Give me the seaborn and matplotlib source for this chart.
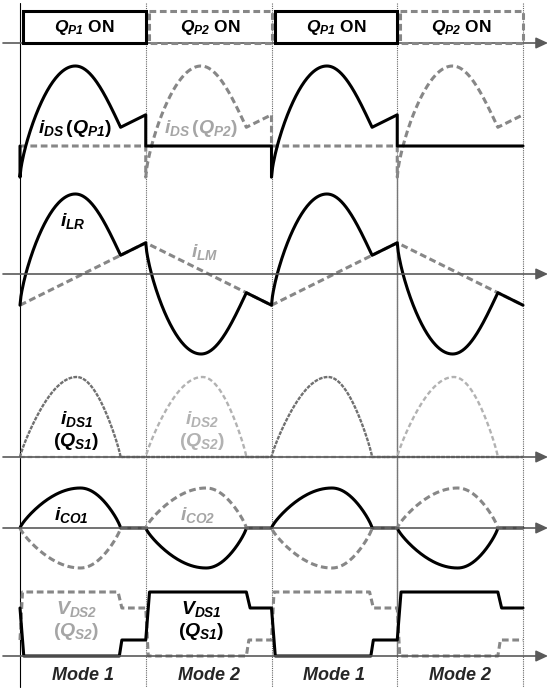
import matplotlib
matplotlib.use("Agg")
import matplotlib.pyplot as plt
from matplotlib.patches import Rectangle
import numpy as np
import seaborn as sns

sns.set_style("white")
plt.rcParams.update({
    "font.family": ["Liberation Sans", "DejaVu Sans"],
    "mathtext.fontset": "custom",
    "mathtext.it": "Liberation Sans:italic:bold",
    "mathtext.rm": "Liberation Sans:italic:bold",
    "mathtext.bf": "Liberation Sans:italic:bold",
})

# ── data (time in half-periods, amplitudes normalised) ─────────────
MODES = ["Mode 1", "Mode 2", "Mode 1", "Mode 2"]
MODE_EDGES = [0, 1, 2, 3, 4]
GATES = ["$Q_{P1}$ ON", "$Q_{P2}$ ON", "$Q_{P1}$ ON", "$Q_{P2}$ ON"]

T_RES = 0.8          # end of resonant half-wave inside a mode
T_PEAK_LR = 0.44
T_PEAK_DS = 0.45
T_PEAK_CO = 0.48
ILM_START, ILM_END = -0.39, 0.39
ILR_PEAK = 1.0
IDS_PEAK = 1.0
ICO_PEAK = 1.0

# V_DS over one period (mode 1 + mode 2)
VDS1_T = [0, 0.03, 0.79, 0.81, 1.0, 1.03, 1.80, 1.83, 2.0]
VDS1_V = [0.75, 0, 0, 0.25, 0.25, 1.0, 1.0, 0.75, 0.75]
VDS2_T = [0, 0.02, 0.78, 0.81, 1.0, 1.02, 1.80, 1.82, 2.0]
VDS2_V = [0.25, 1.0, 1.0, 0.75, 0.75, 0, 0, 0.25, 0.25]

# ── layout: baseline (px from top) and px per unit ─────────────────
PX0, PX_PER_T = 20, 125.75
GATE_Y = (11, 43)
P_IDS = (146, 80)
P_ILR = (274, 80)
P_IDS1 = (457, 80)
P_ICO = (528, 40)
P_VDS = (656, 64)
AXES_Y = [43, 274, 457, 528, 656]

BLACK = "#000000"
GRAY = "#878787"
LBL_GRAY = "#a5a5a5"
LIGHT = "#b2b2b2"
DASH = (0, (2.2, 1.2))
LW = 2.2


def arc(t0, t1, tpk, n=60, rise_pow=1.0, fall_pow=1.0):
    ta = np.linspace(t0, tpk, n)
    tb = np.linspace(tpk, t1, n)[1:]
    ya = np.sin(np.pi / 2 * (ta - t0) / (tpk - t0)) ** rise_pow
    yb = np.clip(np.cos(np.pi / 2 * (tb - tpk) / (t1 - tpk)), 0, None) ** fall_pow
    return np.r_[ta, tb], np.r_[ya, yb]


def ilm(t):
    return ILM_START + (ILM_END - ILM_START) * t


# i_LR during mode 1: steep resonant rise, then follows i_LM
ta, ya = arc(0, T_RES, T_PEAK_LR, rise_pow=0.7)
knee = ilm(T_RES)
rise = ta <= T_PEAK_LR
lr_res = np.where(rise, ILM_START + (ILR_PEAK - ILM_START) * ya,
                  knee + (ILR_PEAK - knee) * ya)
tl = np.linspace(T_RES, 1, 10)[1:]
LR_T = np.r_[ta, tl]
LR_V = np.r_[lr_res, ilm(tl)]


def trace(ax, t, v, panel, **kw):
    base, scale = panel
    sns.lineplot(x=np.asarray(t) * PX_PER_T + PX0, y=base - scale * np.asarray(v),
                 ax=ax, estimator=None, sort=False, legend=False, **kw)


fig = plt.figure(figsize=(5.5, 6.91), dpi=100)
ax = fig.add_axes([0, 0, 1, 1])
ax.set_xlim(0, 550)
ax.set_ylim(691, 0)
ax.axis("off")

# vertical mode boundaries
xs = [PX0 + e * PX_PER_T for e in MODE_EDGES]
ax.plot([xs[0]] * 2, [3, 687], color=BLACK, lw=0.8)
for x in xs[1:]:
    ax.plot([x] * 2, [3, 687], color="#666666", lw=0.8, ls=(0, (1, 1)))
ax.plot([xs[3]] * 2, [168, 656], color="#777777", lw=1.0)

# horizontal axes with arrows
for y in AXES_Y:
    ax.annotate("", xy=(548, y), xytext=(3, y),
                arrowprops=dict(arrowstyle="-|>,head_length=0.6,head_width=0.28",
                                color="#5a5a5a", lw=1.2, shrinkA=0, shrinkB=0,
                                mutation_scale=12))

# gate boxes
for i, lab in enumerate(GATES):
    x0 = xs[i] + 3
    x1 = xs[i + 1]
    solid = i % 2 == 0
    ax.add_patch(Rectangle((x0, GATE_Y[0]), x1 - x0, GATE_Y[1] - GATE_Y[0], fill=False,
                           ec=BLACK if solid else GRAY, lw=LW,
                           ls="-" if solid else DASH, zorder=3))
    ax.text((x0 + x1) / 2, 27, lab, ha="center", va="center", fontsize=12.5,
            fontweight="bold", color=BLACK)

# panel 2: i_DS of primary switches
m1 = (np.r_[0, LR_T, 1, 2, 2 + LR_T, 3, 4],
      np.r_[0, LR_V, 0, 0, LR_V, 0, 0])
m2 = (np.r_[0, 1, 1 + LR_T, 2, 3, 3 + LR_T],
      np.r_[0, 0, LR_V, 0, 0, LR_V])
trace(ax, *m2, P_IDS, color=GRAY, lw=LW, linestyle=DASH)
trace(ax, *m1, P_IDS, color=BLACK, lw=LW)

# panel 3: i_LR and i_LM
lm_t = np.array(MODE_EDGES, dtype=float)
lm_v = np.array([ILM_START, ILM_END, ILM_START, ILM_END, ILM_START])
trace(ax, lm_t, lm_v, P_ILR, color=GRAY, lw=LW, linestyle=DASH)
lr_t = np.r_[LR_T, 1 + LR_T, 2 + LR_T, 3 + LR_T]
lr_v = np.r_[LR_V, -LR_V, LR_V, -LR_V]
trace(ax, lr_t, lr_v, P_ILR, color=BLACK, lw=LW)

# panel 4: i_DS of secondary switches
dt, dv = arc(0, T_RES, T_PEAK_DS, rise_pow=0.85, fall_pow=0.85)
s1 = (np.r_[dt, 1, 2, 2 + dt, 3, 4], np.r_[IDS_PEAK * dv, 0, 0, IDS_PEAK * dv, 0, 0])
s2 = (np.r_[0, 1, 1 + dt, 2, 3, 3 + dt, 4], np.r_[0, 0, IDS_PEAK * dv, 0, 0, IDS_PEAK * dv, 0])
trace(ax, *s2, P_IDS1, color=LIGHT, lw=1.7, linestyle=(0, (2, 1.2)))
trace(ax, *s1, P_IDS1, color="#707070", lw=1.7, linestyle=(0, (1.6, 0.5)))

# panel 5: output capacitor currents
ct, cv = arc(0, T_RES, T_PEAK_CO, rise_pow=0.8, fall_pow=0.8)
co = ICO_PEAK * cv
c1 = (np.r_[ct, 1, 1 + ct, 2, 2 + ct, 3, 3 + ct, 4],
      np.r_[co, 0, -co, 0, co, 0, -co, 0])
c2 = (np.r_[ct, 1, 1 + ct, 2, 2 + ct, 3, 3 + ct, 4],
      np.r_[-co, 0, co, 0, -co, 0, co, 0])
trace(ax, *c1, P_ICO, color=BLACK, lw=LW)
trace(ax, *c2, P_ICO, color=GRAY, lw=LW, linestyle=DASH)

# panel 6: drain-source voltages of secondary switches
v2 = (np.r_[VDS2_T, np.array(VDS2_T) + 2], np.r_[VDS2_V, VDS2_V])
v1 = (np.r_[VDS1_T, np.array(VDS1_T) + 2], np.r_[VDS1_V, VDS1_V])
trace(ax, *v2, P_VDS, color=GRAY, lw=LW, linestyle=DASH)
trace(ax, *v1, P_VDS, color=BLACK, lw=LW)

# labels
def tx(t):
    return PX0 + t * PX_PER_T

FS = 14
lab = dict(ha="center", va="center", fontweight="bold", fontsize=FS)
ax.text(tx(0.44), 128, r"$i_{DS}\,$($Q_{P1}$)", color=BLACK, **lab)
ax.text(tx(1.44), 128, r"$i_{DS}\,$($Q_{P2}$)", color=LBL_GRAY, **lab)
ax.text(tx(0.42), 221, "$i_{LR}$", color=BLACK, **lab)
ax.text(tx(1.47), 252, "$i_{LM}$", color=LBL_GRAY, **lab)
ax.text(tx(0.45), 419, "$i_{DS1}$", color=BLACK, **lab)
ax.text(tx(0.45), 441, "($Q_{S1}$)", color=BLACK, **lab)
ax.text(tx(1.45), 419, "$i_{DS2}$", color=LIGHT, **lab)
ax.text(tx(1.45), 441, "($Q_{S2}$)", color=LIGHT, **lab)
ax.text(tx(0.41), 515, "$i_{CO1}$", color=BLACK, **lab)
ax.text(tx(1.41), 515, "$i_{CO2}$", color=LBL_GRAY, **lab)
ax.text(tx(0.45), 609, "$V_{DS2}$", color=LBL_GRAY, **lab)
ax.text(tx(0.45), 632, "($Q_{S2}$)", color=LBL_GRAY, **lab)
ax.text(tx(1.44), 609, "$V_{DS1}$", color=BLACK, **lab)
ax.text(tx(1.44), 632, "($Q_{S1}$)", color=BLACK, **lab)

for i, m in enumerate(MODES):
    ax.text(tx(i + 0.5), 675, m, ha="center", va="center", fontsize=13,
            fontweight="bold", fontstyle="italic")

fig.savefig("out.png", dpi=100)
